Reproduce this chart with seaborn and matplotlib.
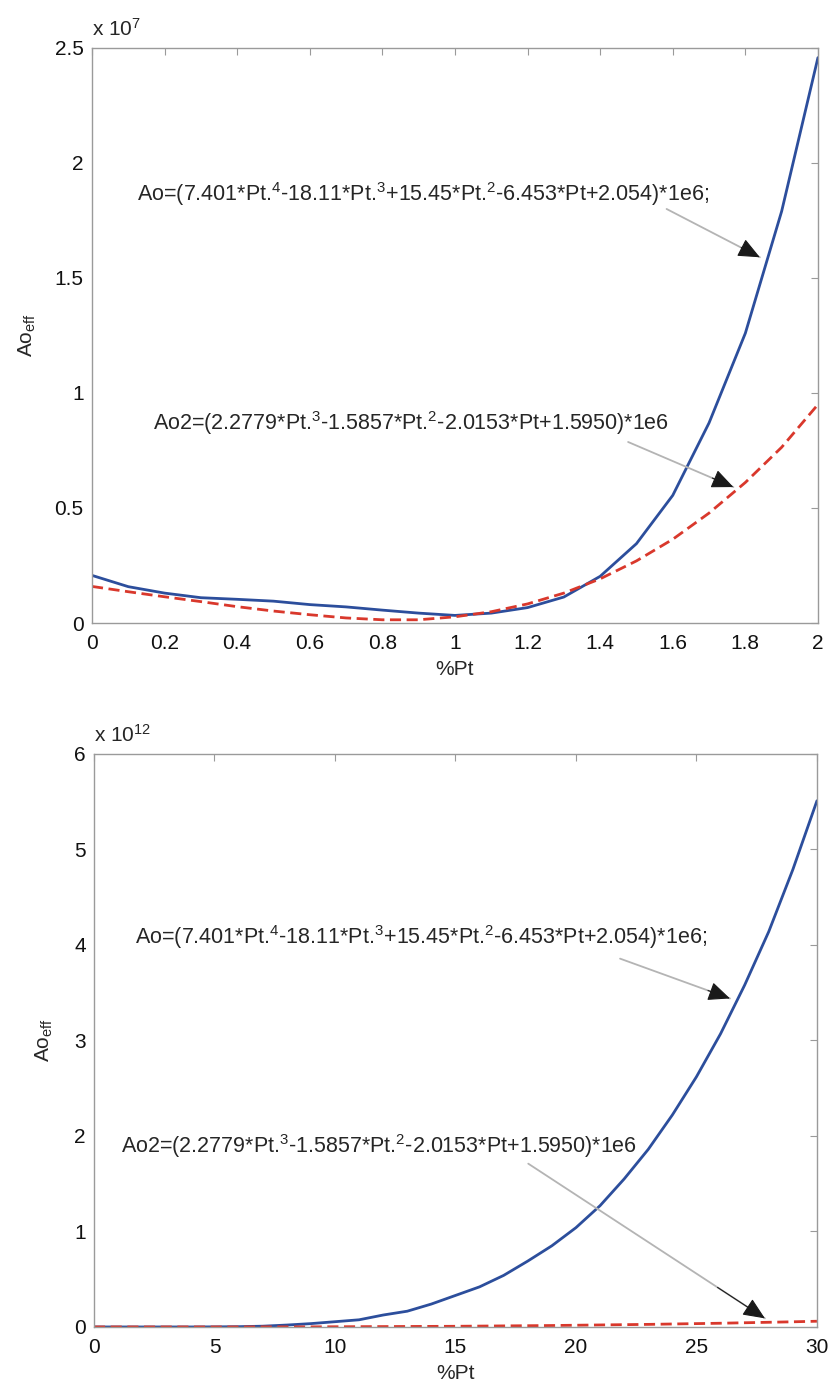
import numpy as np
import pandas as pd
import matplotlib
matplotlib.use('Agg')
import matplotlib.pyplot as plt
import seaborn as sns

sns.set_style('white')
plt.rcParams['font.family'] = ['Liberation Sans', 'DejaVu Sans']
plt.rcParams['mathtext.fontset'] = 'custom'
plt.rcParams['mathtext.rm'] = 'Liberation Sans'
plt.rcParams['mathtext.it'] = 'Liberation Sans:italic'
plt.rcParams['mathtext.bf'] = 'Liberation Sans:bold'

# top panel: %Pt from 0 to 2, values in units of 1e7
pt_small = [0.0, 0.1, 0.2, 0.3, 0.4, 0.5, 0.6, 0.7, 0.8, 0.9, 1.0,
            1.1, 1.2, 1.3, 1.4, 1.5, 1.6, 1.7, 1.8, 1.9, 2.0]
ao_small = [0.207, 0.158, 0.130, 0.110, 0.103, 0.095, 0.080, 0.070, 0.056, 0.043, 0.033,
            0.043, 0.067, 0.113, 0.203, 0.345, 0.555, 0.870, 1.260, 1.790, 2.458]
ao2_small = [0.159, 0.136, 0.114, 0.093, 0.071, 0.052, 0.036, 0.022, 0.014, 0.014, 0.027,
             0.049, 0.083, 0.130, 0.192, 0.270, 0.364, 0.478, 0.611, 0.764, 0.950]

# bottom panel: %Pt from 0 to 30, values in units of 1e12
pt_large = list(range(31))
ao_large = [0.0, 0.0, 0.0, 0.0, 0.0, 0.001, 0.003, 0.008, 0.020, 0.035, 0.055,
            0.075, 0.125, 0.165, 0.240, 0.330, 0.420, 0.540, 0.690, 0.850, 1.040,
            1.270, 1.550, 1.860, 2.220, 2.620, 3.070, 3.580, 4.140, 4.790, 5.510]
ao2_large = [0.0, 0.0, 0.0, 0.0, 0.0, 0.0, 0.0, 0.001, 0.001, 0.001, 0.002,
             0.003, 0.004, 0.005, 0.006, 0.007, 0.009, 0.011, 0.013, 0.015, 0.018,
             0.021, 0.024, 0.027, 0.031, 0.035, 0.039, 0.044, 0.049, 0.054, 0.060]

small_xticks = ['0', '0.2', '0.4', '0.6', '0.8', '1', '1.2', '1.4', '1.6', '1.8', '2']
small_yticks = ['0', '0.5', '1', '1.5', '2', '2.5']
large_xticks = ['0', '5', '10', '15', '20', '25', '30']
large_yticks = ['0', '1', '2', '3', '4', '5', '6']

eq_ao = r'Ao=(7.401*Pt.$^{4}$-18.11*Pt.$^{3}$+15.45*Pt.$^{2}$-6.453*Pt+2.054)*1e6;'
eq_ao2 = r'Ao2=(2.2779*Pt.$^{3}$-1.5857*Pt.$^{2}$-2.0153*Pt+1.5950)*1e6'

blue = '#2c4e9c'
red = '#d9382c'
frame = '#9a9a9a'
fs = 15


def style_axes(ax, xmax, ymax, xlabels, ylabels, power, ylab_x):
    xt = np.linspace(0, xmax, len(xlabels))
    yt = np.linspace(0, ymax, len(ylabels))
    ax.set_xlim(0, xmax)
    ax.set_ylim(0, ymax)
    ax.set_xticks(xt)
    ax.set_xticklabels(xlabels)
    ax.set_yticks(yt)
    ax.set_yticklabels(ylabels)
    ax.tick_params(direction='in', top=True, right=True, length=5, width=0.8,
                   color=frame, labelsize=fs, labelcolor='#111111')
    ax.tick_params(axis='x', pad=8)
    ax.tick_params(axis='y', pad=6)
    for s in ax.spines.values():
        s.set_color(frame)
        s.set_linewidth(1.0)
    ax.set_xlabel('%Pt', fontsize=fs)
    ax.set_ylabel(r'Ao$_{\rm eff}$', fontsize=fs)
    ax.xaxis.set_label_coords(0.5, -0.064)
    ax.yaxis.set_label_coords(ylab_x, 0.5)
    ax.text(0.0, 1.021, r'x 10$^{%d}$' % power, transform=ax.transAxes,
            fontsize=fs, ha='left', va='baseline')


def arrow_note(ax, text, text_xy, tail, head):
    ax.text(text_xy[0], text_xy[1], text, fontsize=15.5, ha='left', va='baseline')
    ax.annotate('', xy=head, xytext=tail,
                arrowprops=dict(arrowstyle='-', color='#b4b4b4', lw=1.3,
                                shrinkA=0, shrinkB=0))
    near = (tail[0] + 0.8 * (head[0] - tail[0]), tail[1] + 0.8 * (head[1] - tail[1]))
    ax.annotate('', xy=head, xytext=near,
                arrowprops=dict(arrowstyle='-|>,head_length=0.8,head_width=0.35',
                                color='#1a1a1a', lw=0.8, mutation_scale=17,
                                shrinkA=0, shrinkB=0))


fig = plt.figure(figsize=(8.31, 13.86), dpi=100)
ax1 = fig.add_axes([0.1107, 0.5505, 0.8736, 0.4149])
ax2 = fig.add_axes([0.1131, 0.0426, 0.8700, 0.4134])

sns.lineplot(x=pt_small, y=ao_small, ax=ax1, color=blue, lw=2.0)
sns.lineplot(x=pt_small, y=ao2_small, ax=ax1, color=red, lw=2.0, ls=(0, (4, 2)))
style_axes(ax1, 2, 2.5, small_xticks, small_yticks, 7, -0.074)
arrow_note(ax1, eq_ao, (0.123, 1.834), (1.583, 1.80), (1.840, 1.59))
arrow_note(ax1, eq_ao2, (0.167, 0.841), (1.477, 0.787), (1.767, 0.591))

sns.lineplot(x=pt_large, y=ao_large, ax=ax2, color=blue, lw=2.0)
sns.lineplot(x=pt_large, y=ao2_large, ax=ax2, color=red, lw=2.0, ls=(0, (4, 2)))
style_axes(ax2, 30, 6, large_xticks, large_yticks, 12, -0.054)
arrow_note(ax2, eq_ao, (1.70, 4.01), (21.83, 3.857), (26.39, 3.44))
arrow_note(ax2, eq_ao2, (1.11, 1.823), (18.02, 1.71), (27.84, 0.09))

fig.savefig('out.png', dpi=100)
